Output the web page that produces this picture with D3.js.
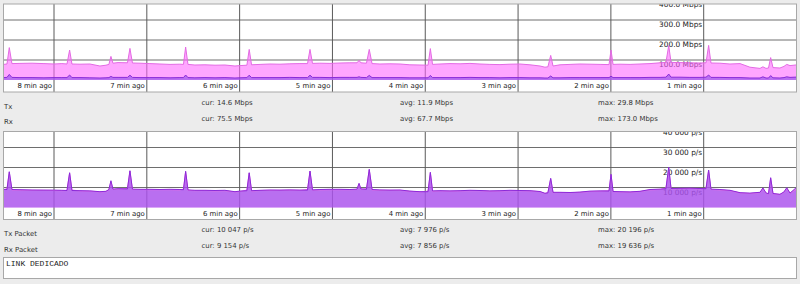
<!DOCTYPE html>
<html>
<head>
<meta charset="utf-8">
<script src="https://cdn.jsdelivr.net/npm/d3@7"></script>
<style>
  body { margin: 0; background: #ececec; }
  svg { display: block; }
</style>
</head>
<body>
<script>
// seconds ago for every sample (shared by both graphs)
var times = [
  512.7, 510.4, 508.9, 507.2, 502.0, 494.2, 486.5, 480.0, 474.9, 471.6,
  469.9, 468.4, 463.2, 456.8, 450.3, 446.4, 444.5, 443.2, 441.9, 438.6,
  432.5, 430.9, 429.3, 424.4, 418.0, 411.5, 405.0, 398.6, 396.3, 394.9,
  393.4, 388.9, 382.4, 375.9, 369.5, 363.0, 359.8, 355.3, 353.8, 352.3,
  346.8, 340.4, 333.9, 327.5, 321.0, 316.1, 314.5, 312.9, 308.1, 301.6,
  295.1, 288.7, 284.1, 282.8, 281.6, 278.0, 276.2, 274.4, 269.3, 262.8,
  256.3, 249.9, 243.4, 238.2, 236.7, 235.3, 230.5, 224.0, 217.5, 211.1,
  204.6, 198.2, 191.7, 185.2, 178.8, 172.3, 165.8, 162.6, 160.7, 158.9,
  157.4, 152.9, 146.4, 140.0, 133.5, 127.0, 121.2, 119.9, 118.6, 114.1,
  107.6, 101.2, 94.7, 88.2, 84.4, 82.6, 81.1, 75.3, 68.9, 62.4,
  58.5, 56.8, 55.3, 49.5, 43.0, 36.5, 30.1, 23.6, 21.7, 19.7,
  18.1, 16.7, 15.2, 10.7, 8.1, 6.3, 4.2, 0
];

// Mbps
var rxMbps = [
  78, 80, 162, 82, 83, 84, 82, 80, 82, 80,
  150, 80, 79, 80, 70, 74, 78, 118, 84, 87,
  86, 158, 85, 84, 82, 80, 78, 79, 78, 165,
  78, 75, 76, 74, 75, 70, 72, 74, 153, 76,
  78, 80, 79, 81, 82, 82, 153, 83, 84, 83,
  85, 86, 86, 98, 86, 84, 153, 82, 80, 81,
  80, 76, 75, 74, 157, 78, 80, 82, 81, 83,
  80, 78, 77, 79, 80, 76, 70, 64, 66, 123,
  70, 76, 78, 80, 79, 78, 77, 150, 78, 79,
  78, 80, 82, 86, 88, 172, 88, 87, 86, 85,
  86, 173, 85, 84, 80, 82, 64, 58, 66, 58,
  60, 112, 62, 60, 68, 78, 72, 75.5
];
var txMbps = [
  12, 13, 28, 13, 12, 12, 11, 12, 12, 12,
  25, 12, 12, 11, 10, 11, 12, 18, 13, 13,
  13, 24, 13, 12, 12, 12, 11, 12, 12, 25,
  12, 11, 12, 11, 12, 10, 11, 12, 24, 12,
  12, 12, 12, 13, 12, 12, 24, 13, 13, 12,
  13, 13, 13, 16, 13, 12, 23, 12, 12, 12,
  12, 11, 11, 11, 23, 12, 12, 12, 12, 13,
  12, 12, 11, 12, 12, 11, 11, 10, 10, 20,
  11, 11, 12, 12, 12, 12, 12, 19, 12, 12,
  12, 12, 13, 13, 14, 29.8, 14, 14, 13, 13,
  14, 25, 13, 13, 12, 12, 10, 10, 16, 10,
  10, 22, 11, 10, 12, 16, 13, 14.6
];

// packets per second
var txPkt = [
  9100, 9000, 17900, 9000, 8900, 8750, 8700, 8700, 8600, 8500,
  17400, 8500, 8400, 8300, 7900, 8100, 9000, 13400, 9200, 9400,
  9300, 18400, 9200, 9100, 9100, 9000, 9100, 9000, 8900, 18100,
  8800, 8600, 8600, 8500, 8600, 7900, 8200, 8400, 17400, 8400,
  8600, 8750, 8700, 8800, 8700, 8700, 18250, 8800, 9000, 9100,
  9100, 9000, 9200, 12100, 9300, 9100, 19100, 9000, 8800, 8700,
  8750, 8200, 7900, 7900, 17600, 8300, 8400, 8300, 8400, 8600,
  8500, 8300, 8400, 8600, 8500, 8400, 8000, 7100, 7300, 14600,
  7600, 7600, 7500, 7700, 8200, 8300, 8250, 16600, 8000, 7900,
  7800, 8100, 9000, 9200, 9400, 20196, 9500, 9600, 9700, 9500,
  9400, 18750, 9200, 9000, 8600, 7400, 7200, 7600, 9800, 7300,
  6900, 14900, 7000, 6600, 7800, 9900, 7200, 10047
];
var rxPkt = [
  8900, 9300, 17600, 8800, 8700, 8600, 8600, 8500, 8400, 8500,
  17200, 8700, 8300, 8200, 7800, 8000, 8800, 13000, 9000, 9200,
  9500, 18200, 9000, 9000, 8900, 8900, 8900, 8800, 9200, 17900,
  8600, 8400, 8500, 8300, 8400, 7800, 8000, 8700, 17200, 8200,
  8500, 8600, 8600, 8700, 8600, 9000, 18000, 8700, 8800, 8900,
  8900, 8900, 9000, 11800, 9100, 9400, 18900, 8800, 8600, 8600,
  8600, 8100, 7800, 8200, 17400, 8100, 8300, 8200, 8300, 8400,
  8400, 8200, 8300, 8400, 8400, 8300, 7900, 7000, 7600, 14300,
  7400, 7500, 7400, 7600, 8000, 8200, 8400, 16300, 7900, 7800,
  7700, 8000, 8800, 9000, 9700, 19636, 9300, 9400, 9500, 9300,
  9600, 18500, 9000, 8800, 8400, 7300, 7000, 7400, 9500, 7100,
  6800, 14600, 6900, 6500, 7600, 9600, 7100, 9154
];

var minuteTicks = [1, 2, 3, 4, 5, 6, 7, 8];
var mbpsTicks = [100, 200, 300, 400];
var pktTicks = [10000, 20000, 30000, 40000];

var trafficNames = ["Tx", "Rx"];
var trafficCur = ["14.6 Mbps", "75.5 Mbps"];
var trafficAvg = ["11.9 Mbps", "67.7 Mbps"];
var trafficMax = ["29.8 Mbps", "173.0 Mbps"];

var packetNames = ["Tx Packet", "Rx Packet"];
var packetCur = ["10 047 p/s", "9 154 p/s"];
var packetAvg = ["7 976 p/s", "7 856 p/s"];
var packetMax = ["20 196 p/s", "19 636 p/s"];

var comment = "LINK DEDICADO";

var width = 800, height = 284;
var boxLeft = 3.5, boxRight = 796.5;
var font = "DejaVu Sans";

var svg = d3.select("body").append("svg")
    .attr("width", width)
    .attr("height", height);

svg.append("rect")
    .attr("width", width)
    .attr("height", height)
    .attr("fill", "#ececec");

// seconds ago -> x
var xScale = d3.scaleLinear()
    .domain([0, 480])
    .range([796.5, 54]);

var fmtPkt = function(v) {
    return d3.format(",")(v).replace(/,/g, " ") + " p/s";
};
var fmtMbps = function(v) {
    return d3.format(".1f")(v) + " Mbps";
};

function drawPanel(id, top, yMax, yTicks, fmtY, rx, tx) {
    var zero = top + 76;
    var yScale = d3.scaleLinear()
        .domain([0, yMax])
        .range([zero, top - 4]);

    var g = svg.append("g");

    g.append("rect")
        .attr("x", boxLeft)
        .attr("y", top)
        .attr("width", boxRight - boxLeft)
        .attr("height", 88)
        .attr("fill", "#fff");

    g.append("clipPath")
        .attr("id", id)
        .append("rect")
        .attr("x", boxLeft)
        .attr("y", top)
        .attr("width", boxRight - boxLeft)
        .attr("height", 88);

    var inner = g.append("g").attr("clip-path", "url(#" + id + ")");

    // horizontal grid
    inner.selectAll(".hgrid")
        .data(yTicks)
        .enter()
        .append("line")
        .attr("x1", boxLeft)
        .attr("x2", boxRight)
        .attr("y1", d => yScale(d))
        .attr("y2", d => yScale(d))
        .attr("stroke", "#6e6e6e")
        .attr("stroke-width", 1);

    // vertical grid
    inner.selectAll(".vgrid")
        .data(minuteTicks)
        .enter()
        .append("line")
        .attr("x1", d => xScale(d * 60))
        .attr("x2", d => xScale(d * 60))
        .attr("y1", top)
        .attr("y2", top + 88)
        .attr("stroke", "#5a5a5a")
        .attr("stroke-width", 1);

    inner.selectAll(".xlab")
        .data(minuteTicks)
        .enter()
        .append("text")
        .attr("x", d => xScale(d * 60) - 2)
        .attr("y", top + 84)
        .attr("text-anchor", "end")
        .style("font-family", font)
        .style("font-size", "6.9px")
        .style("fill", "#222")
        .text(d => d + " min ago");

    inner.selectAll(".ylab")
        .data(yTicks)
        .enter()
        .append("text")
        .attr("x", xScale(60) - 1.5)
        .attr("y", d => yScale(d) + 7)
        .attr("text-anchor", "end")
        .style("font-family", font)
        .style("font-size", "7.4px")
        .style("fill", "#222")
        .text(d => fmtY(d));

    var pts = times.map(function(t, i) { return i; });

    var series = [
        { values: rx, fill: "#ff66ff", fillOp: 0.58, line: "#e36ae3" },
        { values: tx, fill: "#8a4be6", fillOp: 0.6, line: "#8a2ad8" }
    ];

    series.forEach(function(s) {
        var area = d3.area()
            .x(i => xScale(times[i]))
            .y0(zero)
            .y1(i => yScale(s.values[i]));
        inner.append("path")
            .datum(pts)
            .attr("d", area)
            .attr("fill", s.fill)
            .attr("fill-opacity", s.fillOp);
    });
    series.forEach(function(s) {
        var line = d3.line()
            .x(i => xScale(times[i]))
            .y(i => yScale(s.values[i]));
        inner.append("path")
            .datum(pts)
            .attr("d", line)
            .attr("fill", "none")
            .attr("stroke", s.line)
            .attr("stroke-width", 1);
    });

    g.append("rect")
        .attr("x", boxLeft)
        .attr("y", top)
        .attr("width", boxRight - boxLeft)
        .attr("height", 88)
        .attr("fill", "none")
        .attr("stroke", "#a8a8a8");
}

function drawStats(top, names, cur, avg, max) {
    var rows = names.map(function(n, i) {
        return { name: n, cur: cur[i], avg: avg[i], max: max[i], i: i };
    });
    var g = svg.append("g")
        .style("font-family", font)
        .style("font-size", "6.9px")
        .style("fill", "#333");
    g.selectAll(".nm")
        .data(rows)
        .enter()
        .append("text")
        .attr("x", 4)
        .attr("y", d => top + 104.7 + d.i * 15.5)
        .text(d => d.name);
    [["cur", 201.5], ["avg", 400], ["max", 598]].forEach(function(c) {
        g.selectAll(".v" + c[0])
            .data(rows)
            .enter()
            .append("text")
            .attr("x", c[1])
            .attr("y", d => top + 100.5 + d.i * 16)
            .text(d => c[0] + ": " + d[c[0]]);
    });
}

drawPanel("clipTraffic", 4, 400, mbpsTicks, fmtMbps, rxMbps, txMbps);
drawStats(4, trafficNames, trafficCur, trafficAvg, trafficMax);

drawPanel("clipPacket", 131.5, 40000, pktTicks, fmtPkt, rxPkt, txPkt);
drawStats(131.5, packetNames, packetCur, packetAvg, packetMax);

// comment box
svg.append("rect")
    .attr("x", boxLeft)
    .attr("y", 257.5)
    .attr("width", boxRight - boxLeft)
    .attr("height", 21)
    .attr("fill", "#fff")
    .attr("stroke", "#a8a8a8");

svg.append("text")
    .attr("x", 6)
    .attr("y", 266)
    .style("font-family", "Liberation Mono")
    .style("font-size", "8px")
    .style("fill", "#222")
    .text(comment);
</script>
</body>
</html>
